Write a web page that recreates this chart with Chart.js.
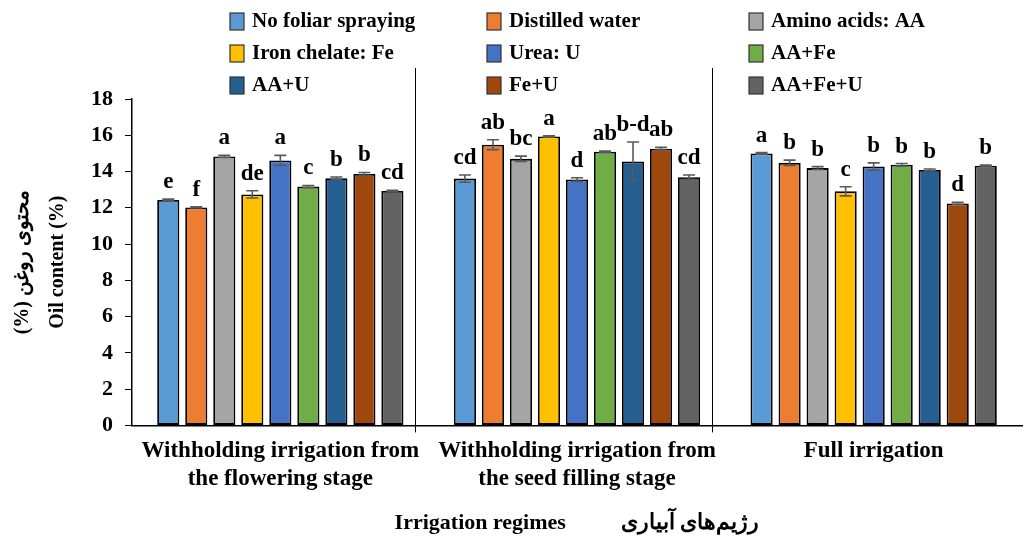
<!DOCTYPE html>
<html>
<head>
<meta charset="utf-8">
<script src="https://cdn.jsdelivr.net/npm/chart.js@4.4.0/dist/chart.umd.min.js"></script>
<style>
  html, body { margin: 0; padding: 0; background: #fff; }
</style>
</head>
<body>
<canvas id="oilChart" width="1024" height="539"></canvas>
<script>
// irrigation regimes (x categories)
const regimes = [
    ['Withholding irrigation from', 'the flowering stage'],
    ['Withholding irrigation from', 'the seed filling stage'],
    'Full irrigation'
];

// foliar treatments (one bar each per regime)
const treatments = ['No foliar spraying', 'Distilled water', 'Amino acids: AA',
    'Iron chelate: Fe', 'Urea: U', 'AA+Fe', 'AA+U', 'Fe+U', 'AA+Fe+U'];
const colors = ['#5B9BD5', '#ED7D31', '#A5A5A5', '#FFC000', '#4472C4',
    '#70AD47', '#255E91', '#9E480E', '#636363'];

// oil content (%) per regime, in treatment order
const flowering   = [12.43, 12.02, 14.83, 12.74, 14.61, 13.17, 13.63, 13.87, 12.93];
const seedFilling = [13.61, 15.48, 14.70, 15.93, 13.56, 15.09, 14.56, 15.26, 13.69];
const fullIrr     = [15.00, 14.48, 14.19, 12.91, 14.28, 14.37, 14.09, 12.24, 14.32];

// standard errors
const floweringErr   = [0.05, 0.03, 0.06, 0.20, 0.28, 0.06, 0.07, 0.08, 0.03];
const seedFillingErr = [0.20, 0.27, 0.15, 0.04, 0.10, 0.04, 1.07, 0.07, 0.12];
const fullIrrErr     = [0.04, 0.15, 0.08, 0.25, 0.20, 0.07, 0.05, 0.06, 0.04];

// mean comparison letters
const floweringLetters   = ['e', 'f', 'a', 'de', 'a', 'c', 'b', 'b', 'cd'];
const seedFillingLetters = ['cd', 'ab', 'bc', 'a', 'd', 'ab', 'b-d', 'ab', 'cd'];
const fullIrrLetters     = ['a', 'b', 'b', 'c', 'b', 'b', 'b', 'd', 'b'];

const values  = [flowering, seedFilling, fullIrr];
const errors  = [floweringErr, seedFillingErr, fullIrrErr];
const letters = [floweringLetters, seedFillingLetters, fullIrrLetters];

const serif = "'Liberation Serif', 'Times New Roman', serif";

const datasets = treatments.map((name, i) => ({
    label: name,
    data: values.map(v => v[i]),
    backgroundColor: colors[i],
    borderColor: '#000',
    borderWidth: 1.8,
    borderSkipped: false
}));

// error bars, letters, group separators and the 3-column legend
const markings = {
    id: 'markings',
    afterDatasetsDraw(chart) {
        const ctx = chart.ctx;
        const y = chart.scales.y;
        const area = chart.chartArea;
        ctx.save();
        chart.data.datasets.forEach((ds, i) => {
            chart.getDatasetMeta(i).data.forEach((bar, j) => {
                const err = errors[j][i];
                const top = y.getPixelForValue(ds.data[j] + err);
                const bot = y.getPixelForValue(ds.data[j] - err);
                ctx.strokeStyle = '#595959';
                ctx.lineWidth = 1.6;
                ctx.beginPath();
                ctx.moveTo(bar.x, top); ctx.lineTo(bar.x, bot);
                ctx.moveTo(bar.x - 6, top); ctx.lineTo(bar.x + 6, top);
                ctx.moveTo(bar.x - 6, bot); ctx.lineTo(bar.x + 6, bot);
                ctx.stroke();
                ctx.fillStyle = '#000';
                ctx.font = 'bold 23px ' + serif;
                ctx.textAlign = 'center';
                ctx.textBaseline = 'alphabetic';
                ctx.fillText(letters[j][i], bar.x, top - 11);
            });
        });

        // vertical lines between regimes
        const last = chart.getDatasetMeta(treatments.length - 1).data;
        ctx.strokeStyle = '#000';
        ctx.lineWidth = 1;
        for (let j = 0; j < regimes.length - 1; j++) {
            const sx = Math.round(last[j].x + last[j].width / 2 + 12) + 0.5;
            ctx.beginPath();
            ctx.moveTo(sx, 68);
            ctx.lineTo(sx, area.bottom + 7);
            ctx.stroke();
        }
        ctx.restore();
    },
    afterDraw(chart) {
        const ctx = chart.ctx;
        const colX = [230, 487, 749];
        const rowY = [21, 53, 85];
        ctx.save();
        ctx.font = 'bold 21px ' + serif;
        ctx.textAlign = 'left';
        ctx.textBaseline = 'middle';
        chart.data.datasets.forEach((ds, i) => {
            const bx = colX[i % 3];
            const by = rowY[Math.floor(i / 3)];
            ctx.fillStyle = ds.backgroundColor;
            ctx.fillRect(bx, by - 8, 14, 17);
            ctx.strokeStyle = '#333';
            ctx.lineWidth = 1.2;
            ctx.strokeRect(bx, by - 8, 14, 17);
            ctx.fillStyle = '#000';
            ctx.fillText(ds.label, bx + 22, by + 1);
        });
        ctx.restore();
    }
};

new Chart(document.getElementById('oilChart'), {
    type: 'bar',
    data: { labels: regimes, datasets: datasets },
    plugins: [markings],
    options: {
        responsive: false,
        animation: false,
        categoryPercentage: 0.85,
        barPercentage: 0.79,
        layout: { padding: { top: 99, left: 5, right: 2, bottom: 2 } },
        plugins: {
            legend: { display: false },
            tooltip: { enabled: false }
        },
        scales: {
            x: {
                grid: { display: true, drawOnChartArea: false, drawTicks: false },
                border: { display: true, color: '#000', width: 1.5 },
                ticks: {
                    color: '#000',
                    font: { family: serif, size: 23, weight: 'bold' },
                    padding: 12,
                    maxRotation: 0,
                    autoSkip: false
                },
                title: {
                    display: true,
                    text: 'Irrigation regimes\u2003\u2003\u2002رژیم‌های آبیاری',
                    color: '#000',
                    font: { family: serif, size: 22, weight: 'bold' },
                    padding: { top: 6, bottom: 0 }
                }
            },
            y: {
                min: 0,
                max: 18,
                grid: { drawOnChartArea: false, drawTicks: true, tickLength: 7, color: '#000' },
                border: { display: true, color: '#000', width: 1.5 },
                ticks: {
                    stepSize: 2,
                    color: '#000',
                    font: { family: serif, size: 22, weight: 'bold' },
                    padding: 12
                },
                title: {
                    display: true,
                    text: ['\u200Fمحتوی روغن (%)\u200F', 'Oil content (%)'],
                    color: '#000',
                    font: { family: serif, size: 20, weight: 'bold', lineHeight: 1.75 },
                    padding: { top: 0, bottom: 4 }
                }
            }
        }
    }
});
</script>
</body>
</html>
